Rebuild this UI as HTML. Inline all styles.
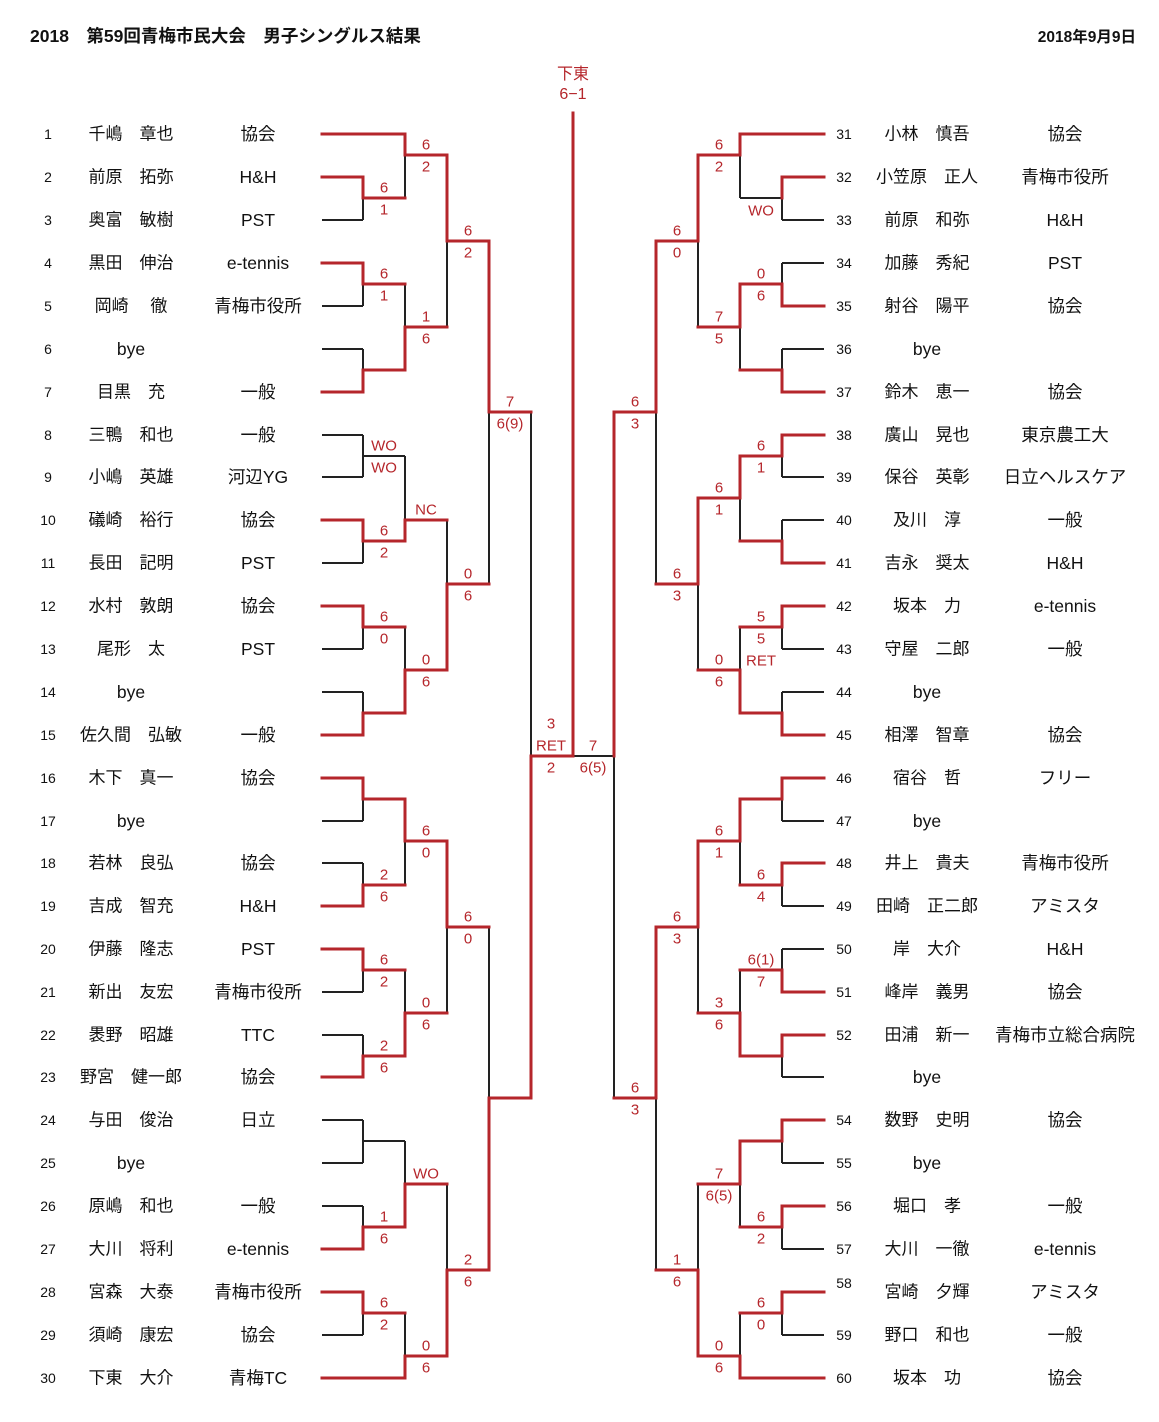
<!DOCTYPE html>
<html><head><meta charset="utf-8">
<style>
html,body{margin:0;padding:0;background:#fff;}
svg{display:block;}
text{font-family:"Liberation Sans","Noto Sans CJK JP",sans-serif;}
.n{font-size:14px;fill:#111;}
.nm{font-size:17px;fill:#111;text-anchor:middle;}
.cl{font-size:17.5px;fill:#111;text-anchor:middle;}
.s{font-size:15px;fill:#b5262b;text-anchor:middle;}
</style></head>
<body>
<svg width="1159" height="1422" viewBox="0 0 1159 1422" xmlns="http://www.w3.org/2000/svg">
<text x="30" y="42" style="font-size:17.5px;font-weight:bold;fill:#111">2018　第59回青梅市民大会　男子シングルス結果</text>
<text x="1136" y="42" style="font-size:15.5px;font-weight:bold;fill:#111;text-anchor:end">2018年9月9日</text>
<text x="573" y="79" class="s" style="font-size:16px">下東</text>
<text x="573" y="99" class="s" style="font-size:16px">6−1</text>

<g fill="none" stroke="#222" stroke-width="2">
<path d="M322 220H363 M322 306H363 M322 349H363 M322 435H363 M322 477H363 M322 563H363 M322 649H363 M322 692H363 M322 821H363 M322 863H363 M322 992H363 M322 1035H363 M322 1120H363 M322 1163H363 M322 1206H363 M322 1335H363
M363 198V220 M363 284V306 M363 349V370 M363 435V477 M363 456H405 M363 541V563 M363 627V649 M363 692V713 M363 799V821 M363 863V885 M363 970V992 M363 1035V1056 M363 1120V1163 M363 1141H405 M363 1206V1227 M363 1313V1335
M405 155V198 M405 284V327 M405 456V520 M405 627V670 M405 841V885 M405 970V1013 M405 1141V1184 M405 1313V1356
M447 241V327 M447 520V584 M447 927V1013 M447 1184V1270
M489 412V584 M489 927V1098
M531 412V756"/>
<path d="M824 220H782 M824 263H782 M824 349H782 M824 477H782 M824 520H782 M824 649H782 M824 692H782 M824 821H782 M824 906H782 M824 949H782 M824 1077H782 M824 1163H782 M824 1249H782 M824 1335H782
M782 198V220 M782 198H740 M782 263V284 M782 349V370 M782 456V477 M782 520V541 M782 627V649 M782 692V713 M782 799V821 M782 885V906 M782 949V970 M782 1056V1077 M782 1141V1163 M782 1227V1249 M782 1313V1335
M740 155V198 M740 327V370 M740 498V541 M740 627V670 M740 841V885 M740 970V1013 M740 1184V1227 M740 1313V1356
M698 241V327 M698 584V670 M698 927V1013 M698 1184V1270
M656 412V584 M656 1098V1270
M614 756V1098 M614 756H573"/>
</g>
<g fill="none" stroke="#b5262b" stroke-width="3" stroke-linejoin="miter" stroke-linecap="square">
<path d="M322 134H405 M322 177H363 M322 263H363 M322 392H363 M322 520H363 M322 606H363 M322 735H363 M322 778H363 M322 906H363 M322 949H363 M322 1077H363 M322 1249H363 M322 1292H363 M322 1378H405
M363 177V198H405 M363 263V284H405 M363 392V370H405 M363 520V541H405 M363 606V627H405 M363 735V713H405 M363 778V799H405 M363 906V885H405 M363 949V970H405 M363 1077V1056H405 M363 1249V1227H405 M363 1292V1313H405
M405 134V155H447 M405 370V327H447 M405 541V520H447 M405 713V670H447 M405 799V841H447 M405 1056V1013H447 M405 1227V1184H447 M405 1378V1356H447
M447 155V241H489 M447 670V584H489 M447 841V927H489 M447 1356V1270H489
M489 241V412H531 M489 1270V1098H531
M531 1098V756H573 M573 113V756"/>
<path d="M824 134H740 M824 177H782 M824 306H782 M824 392H782 M824 435H782 M824 563H782 M824 606H782 M824 735H782 M824 778H782 M824 863H782 M824 992H782 M824 1035H782 M824 1120H782 M824 1206H782 M824 1292H782 M824 1378H740
M782 177V198 M782 306V284H740 M782 392V370H740 M782 435V456H740 M782 563V541H740 M782 606V627H740 M782 735V713H740 M782 778V799H740 M782 863V885H740 M782 992V970H740 M782 1035V1056H740 M782 1120V1141H740 M782 1206V1227H740 M782 1292V1313H740
M740 134V155H698 M740 284V327H698 M740 456V498H698 M740 713V670H698 M740 799V841H698 M740 1056V1013H698 M740 1141V1184H698 M740 1378V1356H698
M698 155V241H656 M698 498V584H656 M698 841V927H656 M698 1356V1270H656
M656 241V412H614 M656 927V1098H614
M614 412V756"/>
</g>

<g class="s" dominant-baseline="central">
<text x="384" y="188" class="s">6</text><text x="384" y="210" class="s">1</text>
<text x="384" y="274" class="s">6</text><text x="384" y="296" class="s">1</text>
<text x="384" y="446" class="s">WO</text><text x="384" y="468" class="s">WO</text>
<text x="384" y="531" class="s">6</text><text x="384" y="553" class="s">2</text>
<text x="384" y="617" class="s">6</text><text x="384" y="639" class="s">0</text>
<text x="384" y="875" class="s">2</text><text x="384" y="897" class="s">6</text>
<text x="384" y="960" class="s">6</text><text x="384" y="982" class="s">2</text>
<text x="384" y="1046" class="s">2</text><text x="384" y="1068" class="s">6</text>
<text x="384" y="1217" class="s">1</text><text x="384" y="1239" class="s">6</text>
<text x="384" y="1303" class="s">6</text><text x="384" y="1325" class="s">2</text>
<text x="426" y="145" class="s">6</text><text x="426" y="167" class="s">2</text>
<text x="426" y="317" class="s">1</text><text x="426" y="339" class="s">6</text>
<text x="426" y="510" class="s">NC</text>
<text x="426" y="660" class="s">0</text><text x="426" y="682" class="s">6</text>
<text x="426" y="831" class="s">6</text><text x="426" y="853" class="s">0</text>
<text x="426" y="1003" class="s">0</text><text x="426" y="1025" class="s">6</text>
<text x="426" y="1174" class="s">WO</text>
<text x="426" y="1346" class="s">0</text><text x="426" y="1368" class="s">6</text>
<text x="468" y="231" class="s">6</text><text x="468" y="253" class="s">2</text>
<text x="468" y="574" class="s">0</text><text x="468" y="596" class="s">6</text>
<text x="468" y="917" class="s">6</text><text x="468" y="939" class="s">0</text>
<text x="468" y="1260" class="s">2</text><text x="468" y="1282" class="s">6</text>
<text x="510" y="402" class="s">7</text><text x="510" y="424" class="s">6(9)</text>
<text x="551" y="724" class="s">3</text><text x="551" y="746" class="s">RET</text><text x="551" y="768" class="s">2</text>
<text x="593" y="746" class="s">7</text><text x="593" y="768" class="s">6(5)</text>
<text x="635" y="402" class="s">6</text><text x="635" y="424" class="s">3</text>
<text x="635" y="1088" class="s">6</text><text x="635" y="1110" class="s">3</text>
<text x="677" y="231" class="s">6</text><text x="677" y="253" class="s">0</text>
<text x="677" y="574" class="s">6</text><text x="677" y="596" class="s">3</text>
<text x="677" y="917" class="s">6</text><text x="677" y="939" class="s">3</text>
<text x="677" y="1260" class="s">1</text><text x="677" y="1282" class="s">6</text>
<text x="719" y="145" class="s">6</text><text x="719" y="167" class="s">2</text>
<text x="719" y="317" class="s">7</text><text x="719" y="339" class="s">5</text>
<text x="719" y="488" class="s">6</text><text x="719" y="510" class="s">1</text>
<text x="719" y="660" class="s">0</text><text x="719" y="682" class="s">6</text>
<text x="719" y="831" class="s">6</text><text x="719" y="853" class="s">1</text>
<text x="719" y="1003" class="s">3</text><text x="719" y="1025" class="s">6</text>
<text x="719" y="1174" class="s">7</text><text x="719" y="1196" class="s">6(5)</text>
<text x="719" y="1346" class="s">0</text><text x="719" y="1368" class="s">6</text>
<text x="761" y="211" class="s">WO</text>
<text x="761" y="274" class="s">0</text><text x="761" y="296" class="s">6</text>
<text x="761" y="446" class="s">6</text><text x="761" y="468" class="s">1</text>
<text x="761" y="617" class="s">5</text><text x="761" y="639" class="s">5</text><text x="761" y="661" class="s">RET</text>
<text x="761" y="875" class="s">6</text><text x="761" y="897" class="s">4</text>
<text x="761" y="960" class="s">6(1)</text><text x="761" y="982" class="s">7</text>
<text x="761" y="1217" class="s">6</text><text x="761" y="1239" class="s">2</text>
<text x="761" y="1303" class="s">6</text><text x="761" y="1325" class="s">0</text>
</g>

<g dominant-baseline="central">
<text x="48" y="134" class="n" text-anchor="middle">1</text><text x="131" y="134" class="nm">千嶋　章也</text><text x="258" y="134" class="cl">協会</text>
<text x="48" y="177" class="n" text-anchor="middle">2</text><text x="131" y="177" class="nm">前原　拓弥</text><text x="258" y="177" class="cl">H&amp;H</text>
<text x="48" y="220" class="n" text-anchor="middle">3</text><text x="131" y="220" class="nm">奥富　敏樹</text><text x="258" y="220" class="cl">PST</text>
<text x="48" y="263" class="n" text-anchor="middle">4</text><text x="131" y="263" class="nm">黒田　伸治</text><text x="258" y="263" class="cl">e-tennis</text>
<text x="48" y="306" class="n" text-anchor="middle">5</text><text x="131" y="306" class="nm">岡崎　 徹</text><text x="258" y="306" class="cl">青梅市役所</text>
<text x="48" y="349" class="n" text-anchor="middle">6</text><text x="131" y="349" class="cl">bye</text>
<text x="48" y="392" class="n" text-anchor="middle">7</text><text x="131" y="392" class="nm">目黒　充</text><text x="258" y="392" class="cl">一般</text>
<text x="48" y="435" class="n" text-anchor="middle">8</text><text x="131" y="435" class="nm">三鴨　和也</text><text x="258" y="435" class="cl">一般</text>
<text x="48" y="477" class="n" text-anchor="middle">9</text><text x="131" y="477" class="nm">小嶋　英雄</text><text x="258" y="477" class="cl">河辺YG</text>
<text x="48" y="520" class="n" text-anchor="middle">10</text><text x="131" y="520" class="nm">礒崎　裕行</text><text x="258" y="520" class="cl">協会</text>
<text x="48" y="563" class="n" text-anchor="middle">11</text><text x="131" y="563" class="nm">長田　記明</text><text x="258" y="563" class="cl">PST</text>
<text x="48" y="606" class="n" text-anchor="middle">12</text><text x="131" y="606" class="nm">水村　敦朗</text><text x="258" y="606" class="cl">協会</text>
<text x="48" y="649" class="n" text-anchor="middle">13</text><text x="131" y="649" class="nm">尾形　太</text><text x="258" y="649" class="cl">PST</text>
<text x="48" y="692" class="n" text-anchor="middle">14</text><text x="131" y="692" class="cl">bye</text>
<text x="48" y="735" class="n" text-anchor="middle">15</text><text x="131" y="735" class="nm">佐久間　弘敏</text><text x="258" y="735" class="cl">一般</text>
<text x="48" y="778" class="n" text-anchor="middle">16</text><text x="131" y="778" class="nm">木下　真一</text><text x="258" y="778" class="cl">協会</text>
<text x="48" y="821" class="n" text-anchor="middle">17</text><text x="131" y="821" class="cl">bye</text>
<text x="48" y="863" class="n" text-anchor="middle">18</text><text x="131" y="863" class="nm">若林　良弘</text><text x="258" y="863" class="cl">協会</text>
<text x="48" y="906" class="n" text-anchor="middle">19</text><text x="131" y="906" class="nm">吉成　智充</text><text x="258" y="906" class="cl">H&amp;H</text>
<text x="48" y="949" class="n" text-anchor="middle">20</text><text x="131" y="949" class="nm">伊藤　隆志</text><text x="258" y="949" class="cl">PST</text>
<text x="48" y="992" class="n" text-anchor="middle">21</text><text x="131" y="992" class="nm">新出　友宏</text><text x="258" y="992" class="cl">青梅市役所</text>
<text x="48" y="1035" class="n" text-anchor="middle">22</text><text x="131" y="1035" class="nm">褁野　昭雄</text><text x="258" y="1035" class="cl">TTC</text>
<text x="48" y="1077" class="n" text-anchor="middle">23</text><text x="131" y="1077" class="nm">野宮　健一郎</text><text x="258" y="1077" class="cl">協会</text>
<text x="48" y="1120" class="n" text-anchor="middle">24</text><text x="131" y="1120" class="nm">与田　俊治</text><text x="258" y="1120" class="cl">日立</text>
<text x="48" y="1163" class="n" text-anchor="middle">25</text><text x="131" y="1163" class="cl">bye</text>
<text x="48" y="1206" class="n" text-anchor="middle">26</text><text x="131" y="1206" class="nm">原嶋　和也</text><text x="258" y="1206" class="cl">一般</text>
<text x="48" y="1249" class="n" text-anchor="middle">27</text><text x="131" y="1249" class="nm">大川　将利</text><text x="258" y="1249" class="cl">e-tennis</text>
<text x="48" y="1292" class="n" text-anchor="middle">28</text><text x="131" y="1292" class="nm">宮森　大泰</text><text x="258" y="1292" class="cl">青梅市役所</text>
<text x="48" y="1335" class="n" text-anchor="middle">29</text><text x="131" y="1335" class="nm">須崎　康宏</text><text x="258" y="1335" class="cl">協会</text>
<text x="48" y="1378" class="n" text-anchor="middle">30</text><text x="131" y="1378" class="nm">下東　大介</text><text x="258" y="1378" class="cl">青梅TC</text>

<text x="844" y="134" class="n" text-anchor="middle">31</text><text x="927" y="134" class="nm">小林　慎吾</text><text x="1065" y="134" class="cl">協会</text>
<text x="844" y="177" class="n" text-anchor="middle">32</text><text x="927" y="177" class="nm">小笠原　正人</text><text x="1065" y="177" class="cl">青梅市役所</text>
<text x="844" y="220" class="n" text-anchor="middle">33</text><text x="927" y="220" class="nm">前原　和弥</text><text x="1065" y="220" class="cl">H&amp;H</text>
<text x="844" y="263" class="n" text-anchor="middle">34</text><text x="927" y="263" class="nm">加藤　秀紀</text><text x="1065" y="263" class="cl">PST</text>
<text x="844" y="306" class="n" text-anchor="middle">35</text><text x="927" y="306" class="nm">射谷　陽平</text><text x="1065" y="306" class="cl">協会</text>
<text x="844" y="349" class="n" text-anchor="middle">36</text><text x="927" y="349" class="cl">bye</text>
<text x="844" y="392" class="n" text-anchor="middle">37</text><text x="927" y="392" class="nm">鈴木　恵一</text><text x="1065" y="392" class="cl">協会</text>
<text x="844" y="435" class="n" text-anchor="middle">38</text><text x="927" y="435" class="nm">廣山　晃也</text><text x="1065" y="435" class="cl">東京農工大</text>
<text x="844" y="477" class="n" text-anchor="middle">39</text><text x="927" y="477" class="nm">保谷　英彰</text><text x="1065" y="477" class="cl">日立ヘルスケア</text>
<text x="844" y="520" class="n" text-anchor="middle">40</text><text x="927" y="520" class="nm">及川　淳</text><text x="1065" y="520" class="cl">一般</text>
<text x="844" y="563" class="n" text-anchor="middle">41</text><text x="927" y="563" class="nm">吉永　奨太</text><text x="1065" y="563" class="cl">H&amp;H</text>
<text x="844" y="606" class="n" text-anchor="middle">42</text><text x="927" y="606" class="nm">坂本　力</text><text x="1065" y="606" class="cl">e-tennis</text>
<text x="844" y="649" class="n" text-anchor="middle">43</text><text x="927" y="649" class="nm">守屋　二郎</text><text x="1065" y="649" class="cl">一般</text>
<text x="844" y="692" class="n" text-anchor="middle">44</text><text x="927" y="692" class="cl">bye</text>
<text x="844" y="735" class="n" text-anchor="middle">45</text><text x="927" y="735" class="nm">相澤　智章</text><text x="1065" y="735" class="cl">協会</text>
<text x="844" y="778" class="n" text-anchor="middle">46</text><text x="927" y="778" class="nm">宿谷　哲</text><text x="1065" y="778" class="cl">フリー</text>
<text x="844" y="821" class="n" text-anchor="middle">47</text><text x="927" y="821" class="cl">bye</text>
<text x="844" y="863" class="n" text-anchor="middle">48</text><text x="927" y="863" class="nm">井上　貴夫</text><text x="1065" y="863" class="cl">青梅市役所</text>
<text x="844" y="906" class="n" text-anchor="middle">49</text><text x="927" y="906" class="nm">田崎　正二郎</text><text x="1065" y="906" class="cl">アミスタ</text>
<text x="844" y="949" class="n" text-anchor="middle">50</text><text x="927" y="949" class="nm">岸　大介</text><text x="1065" y="949" class="cl">H&amp;H</text>
<text x="844" y="992" class="n" text-anchor="middle">51</text><text x="927" y="992" class="nm">峰岸　義男</text><text x="1065" y="992" class="cl">協会</text>
<text x="844" y="1035" class="n" text-anchor="middle">52</text><text x="927" y="1035" class="nm">田浦　新一</text><text x="1065" y="1035" class="cl">青梅市立総合病院</text>
<text x="927" y="1077" class="cl">bye</text>
<text x="844" y="1120" class="n" text-anchor="middle">54</text><text x="927" y="1120" class="nm">数野　史明</text><text x="1065" y="1120" class="cl">協会</text>
<text x="844" y="1163" class="n" text-anchor="middle">55</text><text x="927" y="1163" class="cl">bye</text>
<text x="844" y="1206" class="n" text-anchor="middle">56</text><text x="927" y="1206" class="nm">堀口　孝</text><text x="1065" y="1206" class="cl">一般</text>
<text x="844" y="1249" class="n" text-anchor="middle">57</text><text x="927" y="1249" class="nm">大川　一徹</text><text x="1065" y="1249" class="cl">e-tennis</text>
<text x="844" y="1283" class="n" text-anchor="middle">58</text><text x="927" y="1292" class="nm">宮崎　夕輝</text><text x="1065" y="1292" class="cl">アミスタ</text>
<text x="844" y="1335" class="n" text-anchor="middle">59</text><text x="927" y="1335" class="nm">野口　和也</text><text x="1065" y="1335" class="cl">一般</text>
<text x="844" y="1378" class="n" text-anchor="middle">60</text><text x="927" y="1378" class="nm">坂本　功</text><text x="1065" y="1378" class="cl">協会</text>
</g>
</svg>
</body></html>
